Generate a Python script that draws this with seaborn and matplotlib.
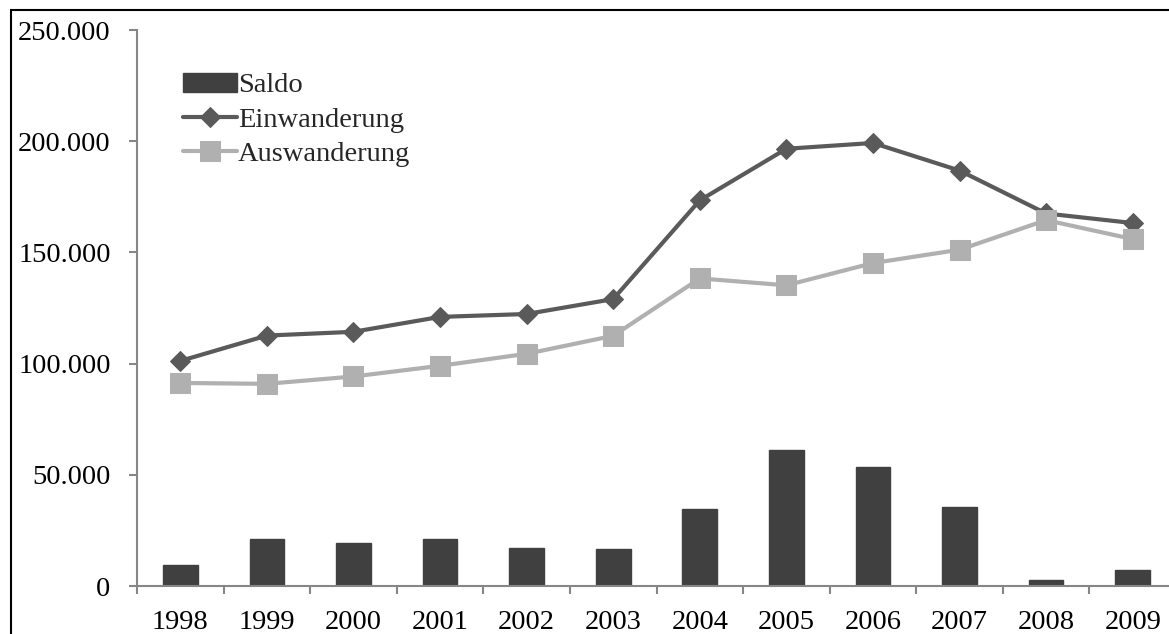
import numpy as np
import pandas as pd
import matplotlib
matplotlib.use("Agg")
import matplotlib.pyplot as plt
import seaborn as sns
from matplotlib.ticker import FuncFormatter
from matplotlib.patches import Rectangle

years = ["1998", "1999", "2000", "2001", "2002", "2003", "2004", "2005", "2006", "2007", "2008", "2009"]
einwanderung = [101200, 112600, 114300, 121000, 122300, 129000, 173400, 196600, 199200, 186800, 167500, 163200]
auswanderung = [91300, 90900, 94200, 99000, 104400, 112500, 138300, 135200, 145200, 151200, 164500, 156000]
saldo = [9400, 21300, 19300, 21100, 17100, 16600, 34500, 61200, 53600, 35700, 2700, 7100]
yticks = [0, 50000, 100000, 150000, 200000, 250000]

sns.set_theme(style="white")
plt.rcParams["font.family"] = ["Liberation Serif", "DejaVu Serif"]
FS = 20.5

df = pd.DataFrame({"Jahr": years, "Saldo": saldo,
                   "Einwanderung": einwanderung, "Auswanderung": auswanderung,
                   "pos": np.arange(len(years))})

fig = plt.figure(figsize=(11.69, 6.34), dpi=100)
ax = fig.add_axes([137/1169, 1 - 586/634, 1039/1169, 556/634])

sns.barplot(data=df, x="Jahr", y="Saldo", order=years, color="#404040",
            saturation=1, width=0.4, ax=ax, label="Saldo", edgecolor="#404040")
sns.lineplot(data=df, x="pos", y="Einwanderung", ax=ax, color="#5a5a5a", lw=3,
             marker="D", markersize=10.5, markeredgecolor="#5a5a5a", label="Einwanderung")
sns.lineplot(data=df, x="pos", y="Auswanderung", ax=ax, color="#b0b0b0", lw=3,
             marker="s", markersize=14, markeredgecolor="#b0b0b0", label="Auswanderung")

ax.set_xlim(-0.5, len(years) - 0.5)
ax.set_ylim(0, 250000)
ax.set_yticks(yticks)
ax.yaxis.set_major_formatter(FuncFormatter(lambda v, p: f"{int(v):,}".replace(",", ".")))
ax.set_xticks(np.arange(len(years)))
ax.set_xticklabels(years)
ax.set_xticks(np.arange(len(years) + 1) - 0.5, minor=True)
ax.tick_params(axis="x", which="major", length=0, pad=17, labelsize=FS, colors="black")
ax.tick_params(axis="x", which="minor", length=6, width=1.5, color="#868686", direction="out", bottom=True)
ax.tick_params(axis="y", length=6, width=1.5, color="#868686", pad=13, labelsize=FS,
               labelcolor="black", direction="out", left=True)
ax.set_xlabel("")
ax.set_ylabel("")
for s in ["top", "right"]:
    ax.spines[s].set_visible(False)
for s in ["left", "bottom"]:
    ax.spines[s].set_color("#868686")
    ax.spines[s].set_linewidth(1.5)

h, l = ax.get_legend_handles_labels()
order = [l.index("Saldo"), l.index("Einwanderung"), l.index("Auswanderung")]
leg = ax.legend([h[i] for i in order], [l[i] for i in order],
                loc="upper left", bbox_to_anchor=(0.033, 0.944), frameon=False, fontsize=FS,
                handlelength=1.9, handletextpad=0.05, labelspacing=0.3, borderaxespad=0)

fig.patches.append(Rectangle((11/1169, -0.1), 2, 1 - 10/634 + 0.1, transform=fig.transFigure,
                             fill=False, lw=1.5, ec="black", zorder=10))

fig.savefig("out.png", dpi=100)
